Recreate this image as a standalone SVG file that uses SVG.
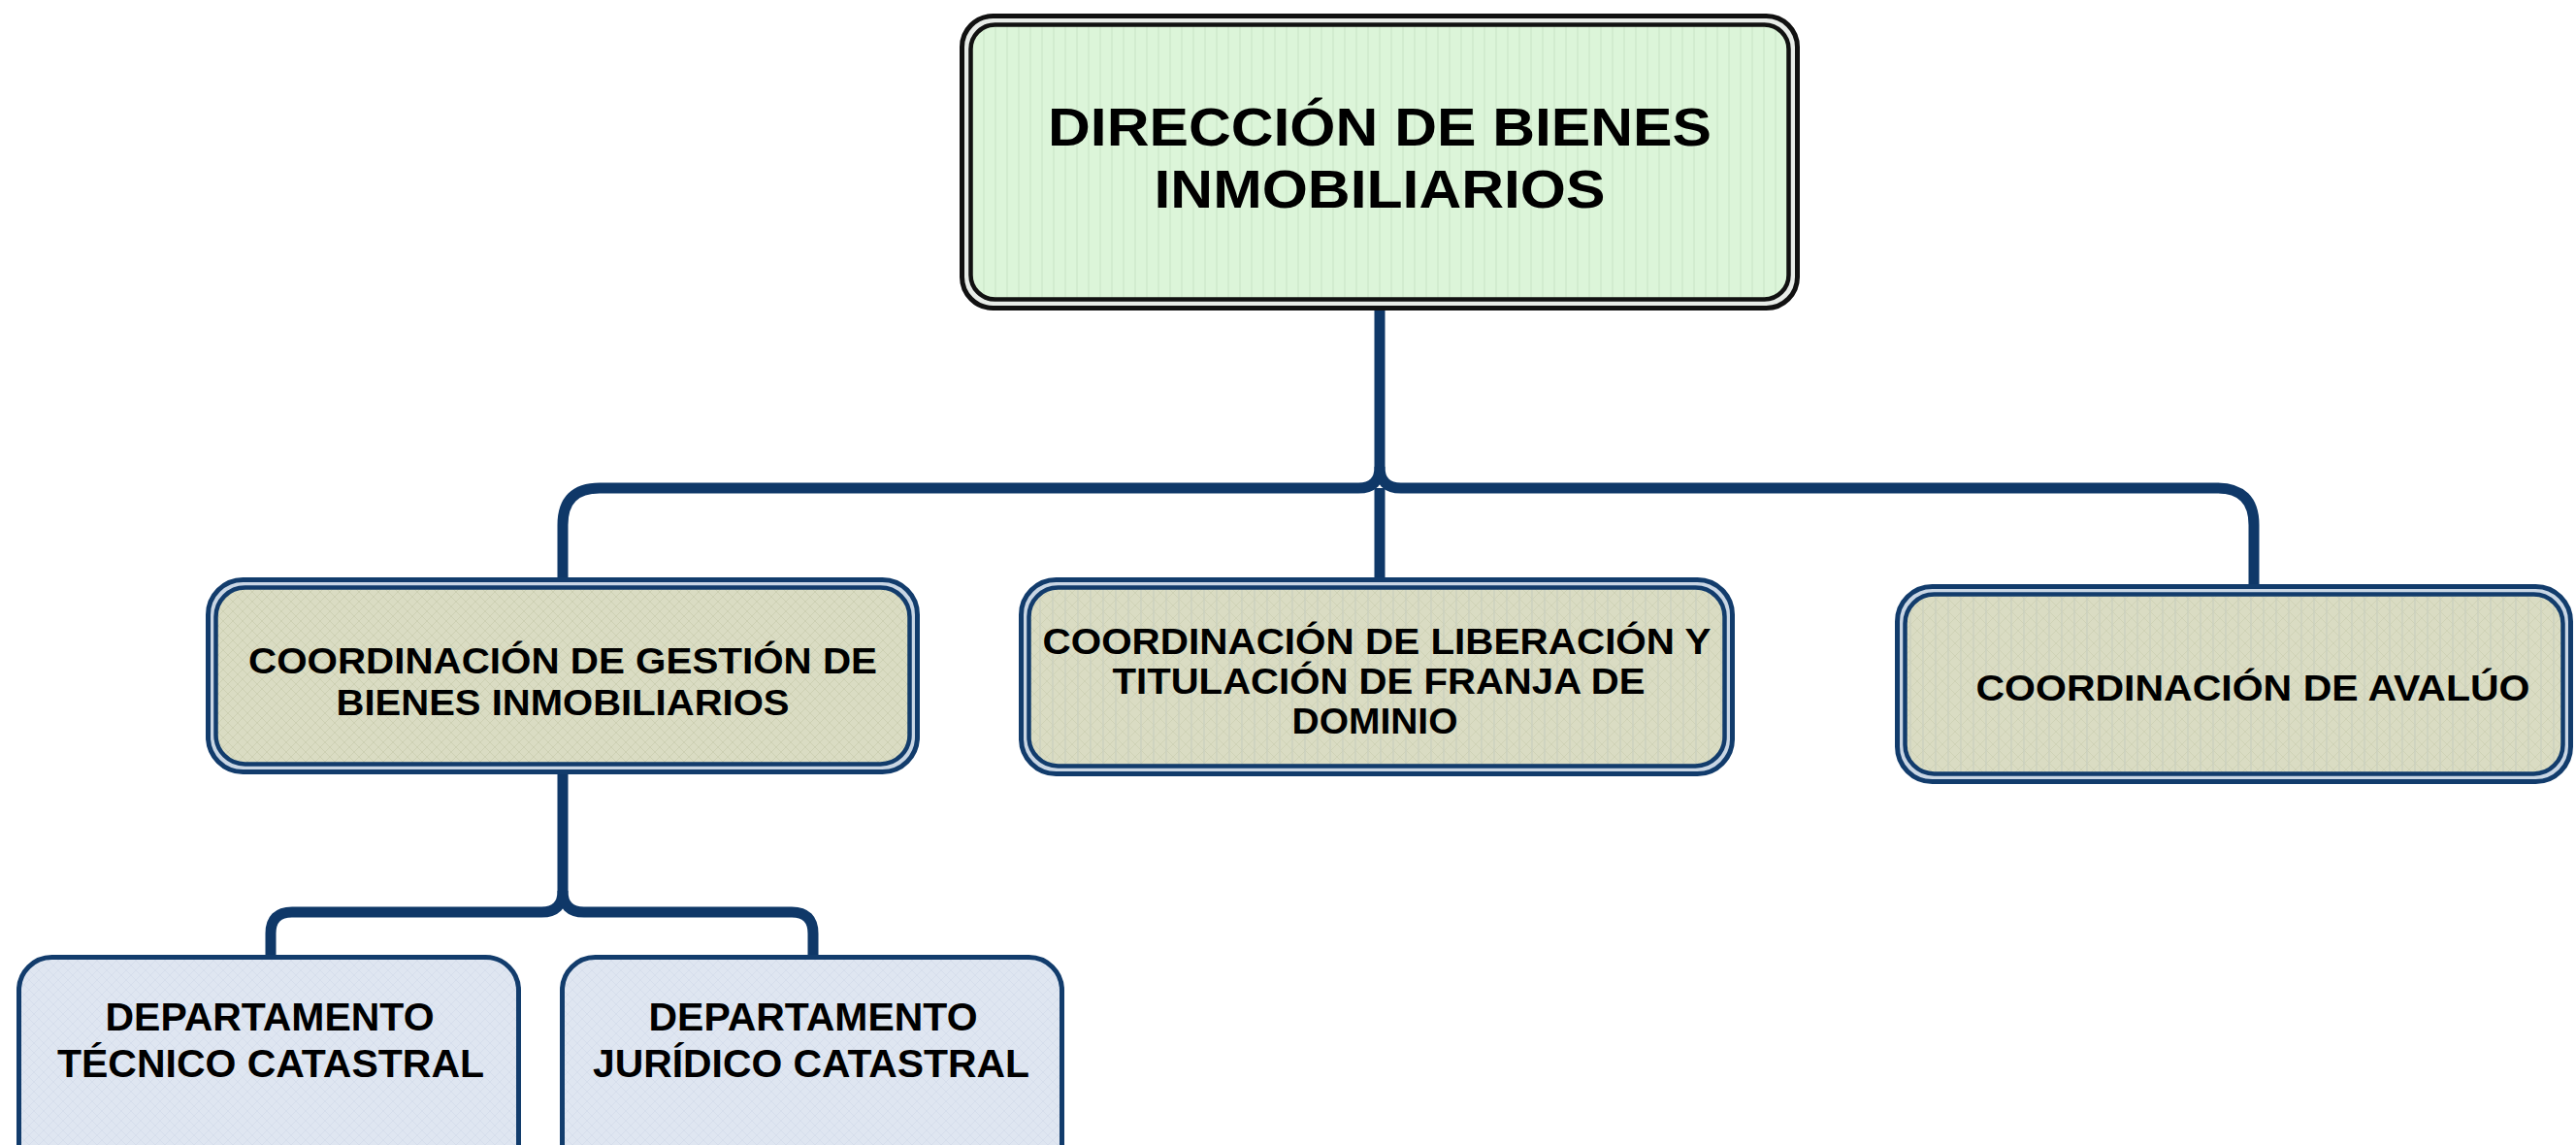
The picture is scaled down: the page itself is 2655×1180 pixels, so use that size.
<svg xmlns="http://www.w3.org/2000/svg" width="2655" height="1180" viewBox="0 0 2655 1180">
  <defs>
    <pattern id="pGreen" width="12" height="12" patternUnits="userSpaceOnUse">
      <rect width="12" height="12" fill="#dcf5d9"/>
      <line x1="6" y1="0" x2="6" y2="12" stroke="#cfe9cc" stroke-width="1.5"/>
    </pattern>
    <pattern id="pKhaki" width="10" height="10" patternUnits="userSpaceOnUse">
      <rect width="10" height="10" fill="#dadcc3"/>
      <path d="M0 0 L10 10 M10 0 L0 10" stroke="#cdd0b3" stroke-width="1"/>
    </pattern>
    <pattern id="pKhakiGrid" width="13" height="13" patternUnits="userSpaceOnUse">
      <rect width="13" height="13" fill="#dadcc3"/>
      <path d="M0 0 L13 13 M13 0 L0 13" stroke="#cfd2b6" stroke-width="1"/>
      <line x1="6" y1="0" x2="6" y2="13" stroke="#c9cfbf" stroke-width="1.2"/>
    </pattern>
    <pattern id="pBlue" width="10" height="10" patternUnits="userSpaceOnUse">
      <rect width="10" height="10" fill="#dfe6f1"/>
      <path d="M0 0 L10 10 M10 0 L0 10" stroke="#d6deec" stroke-width="1"/>
    </pattern>
  </defs>
  <style>
    .txt { font-family: "Liberation Sans", Arial, sans-serif; font-weight: bold; fill: #000; text-anchor: middle; }
    .t1 { font-size: 56px; }
    .t2 { font-size: 37px; }
    .t2s { font-size: 36px; }
    .t3 { font-size: 40px; }
    .topOuter { fill: #e8ece8; stroke: #111; stroke-width: 5; }
    .topInner { fill: url(#pGreen); stroke: #111; stroke-width: 4.5; }
    .coOuter { fill: #c9d6e4; stroke: #123c6c; stroke-width: 5; }
    .coInner { stroke: #123c6c; stroke-width: 4.5; }
    .dept { fill: url(#pBlue); stroke: #123c6c; stroke-width: 5; }
    .conn { fill: none; stroke: #0f3868; stroke-width: 11; stroke-linecap: butt; stroke-linejoin: round; }
  </style>
  <rect width="2655" height="1180" fill="#ffffff"/>

  <g id="connectors">
    <path class="conn" d="M1422 318 V481 Q1422 503 1400 503 H618 Q580 503 580 541 V598"/>
    <path class="conn" d="M1422 481 Q1422 503 1444 503 H2285 Q2323 503 2323 541 V605"/>
    <path class="conn" d="M1422 503 V598"/>
    <path class="conn" d="M580 796 V918 Q580 940 558 940 H301 Q279 940 279 962 V986"/>
    <path class="conn" d="M580 918 Q580 940 602 940 H816 Q838 940 838 962 V986"/>
  </g>

  <g id="node-direccion">
    <rect class="topOuter" x="991.5" y="16.5" width="861" height="301" rx="32"/>
    <rect class="topInner" x="1000.5" y="25.5" width="843" height="283" rx="25"/>
    <text class="txt t1" x="1422" y="150" textLength="684" lengthAdjust="spacingAndGlyphs">DIRECCIÓN DE BIENES</text>
    <text class="txt t1" x="1422" y="214" textLength="465" lengthAdjust="spacingAndGlyphs">INMOBILIARIOS</text>
  </g>

  <g id="node-gestion">
    <rect class="coOuter" x="214.5" y="597.5" width="731" height="198" rx="36"/>
    <rect class="coInner" fill="url(#pKhaki)" x="222.5" y="605.5" width="715" height="182" rx="30"/>
    <text class="txt t2" x="580" y="694" textLength="648" lengthAdjust="spacingAndGlyphs">COORDINACIÓN DE GESTIÓN DE</text>
    <text class="txt t2" x="580" y="737" textLength="467" lengthAdjust="spacingAndGlyphs">BIENES INMOBILIARIOS</text>
  </g>

  <g id="node-liberacion">
    <rect class="coOuter" x="1052.5" y="597.5" width="733" height="200" rx="36"/>
    <rect class="coInner" fill="url(#pKhakiGrid)" x="1060.5" y="605.5" width="717" height="184" rx="30"/>
    <text class="txt t2s" x="1419" y="674" textLength="689" lengthAdjust="spacingAndGlyphs">COORDINACIÓN DE LIBERACIÓN Y</text>
    <text class="txt t2s" x="1421" y="715" textLength="549" lengthAdjust="spacingAndGlyphs">TITULACIÓN DE FRANJA DE</text>
    <text class="txt t2s" x="1417" y="756" textLength="171" lengthAdjust="spacingAndGlyphs">DOMINIO</text>
  </g>

  <g id="node-avaluo">
    <rect class="coOuter" x="1955.5" y="604.5" width="694" height="201" rx="36"/>
    <rect class="coInner" fill="url(#pKhakiGrid)" x="1963.5" y="612.5" width="678" height="185" rx="30"/>
    <text class="txt t2" x="2322" y="722" textLength="571" lengthAdjust="spacingAndGlyphs">COORDINACIÓN DE AVALÚO</text>
  </g>

  <g id="node-tecnico">
    <rect class="dept" x="19.5" y="986.5" width="515" height="230" rx="34"/>
    <text class="txt t3" x="278" y="1062" textLength="339" lengthAdjust="spacingAndGlyphs">DEPARTAMENTO</text>
    <text class="txt t3" x="279" y="1110" textLength="440" lengthAdjust="spacingAndGlyphs">TÉCNICO CATASTRAL</text>
  </g>

  <g id="node-juridico">
    <rect class="dept" x="579.5" y="986.5" width="515" height="230" rx="34"/>
    <text class="txt t3" x="838" y="1062" textLength="339" lengthAdjust="spacingAndGlyphs">DEPARTAMENTO</text>
    <text class="txt t3" x="836" y="1110" textLength="450" lengthAdjust="spacingAndGlyphs">JURÍDICO CATASTRAL</text>
  </g>
</svg>
